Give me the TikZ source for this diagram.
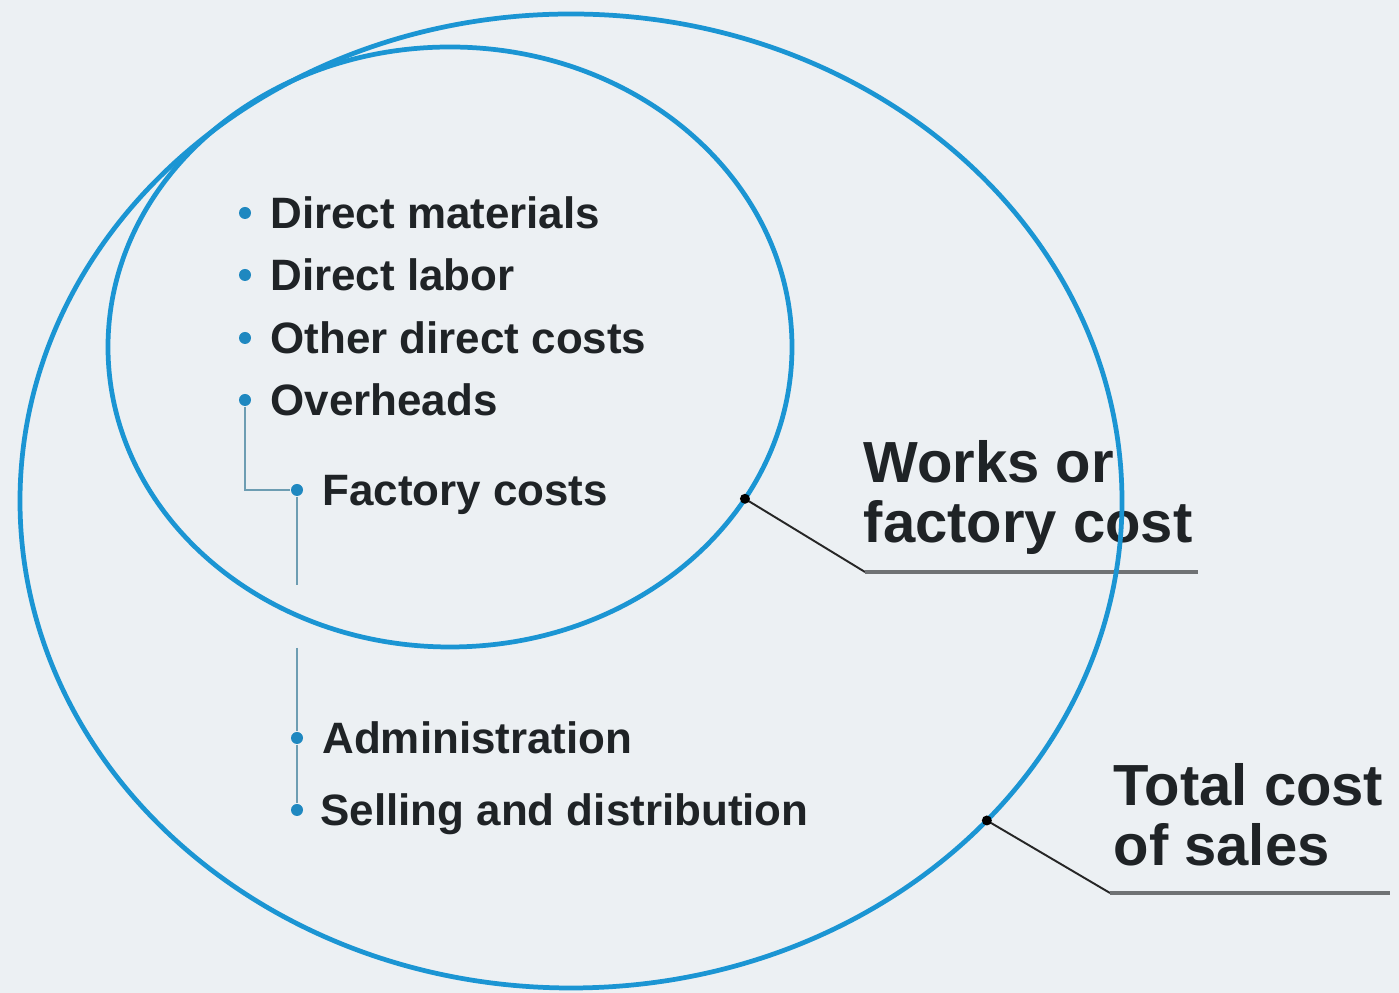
\documentclass[tikz,border=0pt]{standalone}
\usepackage{fontspec}
\setmainfont{Liberation Sans}
\usetikzlibrary{calc, positioning}

\definecolor{bgcol}{HTML}{ECF0F3}
\definecolor{ringblue}{HTML}{1B95D3}
\definecolor{dotblue}{HTML}{1F88C0}
\definecolor{stemcol}{HTML}{6D9DB2}
\definecolor{inkdark}{HTML}{1F2326}
\definecolor{rulegray}{HTML}{6F7274}

\begin{document}
\begin{tikzpicture}[
    ring/.style={draw=ringblue, line width=1.35pt},
    bul/.style={circle, fill=dotblue, inner sep=0pt, minimum size=0.12cm},
    item/.style={inner sep=0pt, anchor=west, text=inkdark, text height=9pt, text depth=0pt,
        font=\fontsize{12.5}{14}\selectfont\bfseries},
    stem/.style={draw=stemcol, line width=0.7pt},
    biglabel/.style={inner sep=0pt, anchor=north west, align=left, text=inkdark,
        font=\fontsize{16.5}{17.1}\selectfont\bfseries},
    lead/.style={draw=black!85, line width=0.55pt},
    shelf/.style={draw=rulegray, line width=1.1pt}
]
    \fill[bgcol] (0,0) rectangle (13.99,9.93);
    \useasboundingbox (0,0) rectangle (13.99,9.93);

    \coordinate (wc) at (4.50,6.46);
    \coordinate (tc) at (5.71,4.92);
    \coordinate (wdot) at ($(wc)+(-30.4:3.42 and 3.00)$);
    \coordinate (tdot) at ($(tc)+(-41.0:5.51 and 4.87)$);
    \coordinate (wknee) at (8.65,4.21);
    \coordinate (wend) at (11.98,4.21);
    \coordinate (tknee) at (11.10,1.00);
    \coordinate (tend) at (13.90,1.00);

    % labels first, rings go over them
    \node[biglabel] (works) at (8.63,5.53) {Works or\\factory cost};
    \node[biglabel] (total) at (11.13,2.30) {Total cost\\of sales};

    \draw[lead] (wdot) -- (wknee);
    \draw[shelf] (wknee) -- (wend);
    \draw[lead] (tdot) -- (tknee);
    \draw[shelf] (tknee) -- (tend);

    \draw[ring] (tc) ellipse (5.51 and 4.87);
    \draw[ring] (wc) ellipse (3.42 and 3.00);

    \fill[black] (wdot) circle (0.05);
    \fill[black] (tdot) circle (0.05);

    % bullet list
    \node[bul] (dm) at (2.45,7.80) {};
    \node[bul] (dl) at (2.45,7.18) {};
    \node[bul] (od) at (2.45,6.55) {};
    \node[bul] (oh) at (2.45,5.93) {};
    \node[bul] (fc) at (2.97,5.03) {};
    \node[bul] (ad) at (2.97,2.55) {};
    \node[bul] (sd) at (2.97,1.83) {};

    \node[item, right=0.18cm of dm] {Direct materials};
    \node[item, right=0.18cm of dl] {Direct labor};
    \node[item, right=0.18cm of od] {Other direct costs};
    \node[item, right=0.18cm of oh] {Overheads};
    \node[item, right=0.18cm of fc] {Factory costs};
    \node[item, right=0.18cm of ad] {Administration};
    \node[item, right=0.16cm of sd] {Selling and distribution};

    \coordinate (gapA) at (2.97,4.08);
    \coordinate (gapB) at (2.97,3.45);
    \draw[stem] (oh) |- (fc);
    \draw[stem] (fc) -- (gapA);
    \draw[stem] (gapB) -- (ad);
    \draw[stem] (ad) -- (sd);
\end{tikzpicture}
\end{document}
